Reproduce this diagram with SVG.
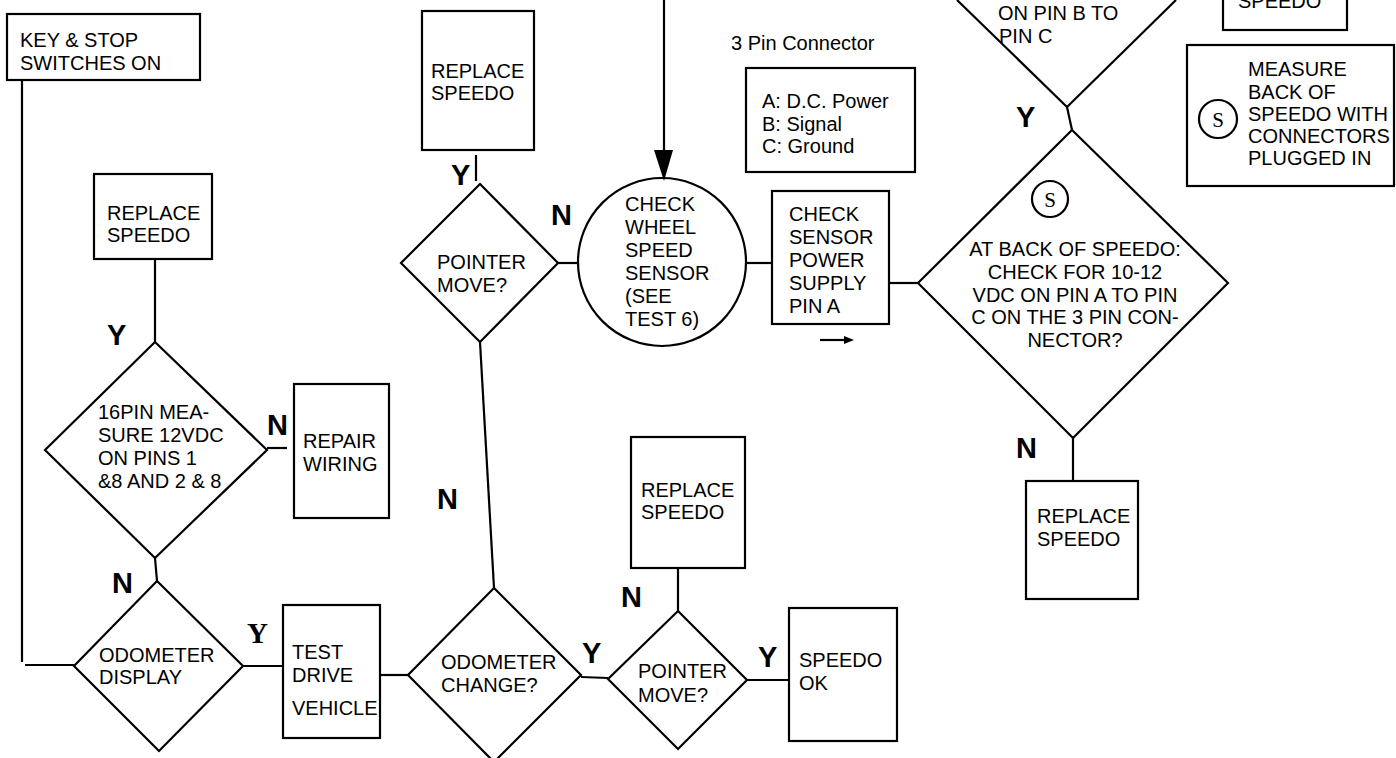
<svg xmlns="http://www.w3.org/2000/svg" width="1396" height="758" viewBox="0 0 1396 758">
<defs>
<style>
.s{fill:none;stroke:#000;stroke-width:2.2}
.t{font-family:"Liberation Sans",Arial,sans-serif;font-size:20px;fill:#000}
.m{text-anchor:middle}
.l{font-family:"Liberation Sans",Arial,sans-serif;font-size:29px;font-weight:bold;fill:#000}
.ls{font-family:"Liberation Serif","Times New Roman",serif;font-size:29px;font-weight:bold;fill:#000}
.sv{font-family:"Liberation Serif","Times New Roman",serif;font-size:21px;fill:#000;text-anchor:middle}
</style>
</defs>
<rect width="1396" height="758" fill="#fff"/>
<g id="connectors" class="s">
<polyline points="22,80 22,662"/>
<line x1="25" y1="665" x2="74" y2="665"/>
<line x1="155" y1="259" x2="155" y2="342"/>
<line x1="267" y1="448" x2="287" y2="448"/>
<line x1="155" y1="558" x2="157" y2="581"/>
<line x1="243" y1="666" x2="284" y2="666"/>
<line x1="380" y1="675" x2="408" y2="675"/>
<line x1="480" y1="342" x2="494" y2="588"/>
<line x1="581" y1="677" x2="608" y2="678"/>
<line x1="678" y1="611" x2="678" y2="568"/>
<line x1="747" y1="680" x2="789" y2="680"/>
<line x1="476" y1="155" x2="476" y2="181"/>
<line x1="558" y1="263" x2="579" y2="263"/>
<line x1="664" y1="0" x2="664" y2="152"/>
<polygon points="654,150 673,150 664,181" fill="#000" stroke="none"/>
<line x1="747" y1="263" x2="772" y2="263"/>
<line x1="820" y1="340" x2="846" y2="340"/>
<polygon points="844,336 854,340 844,344" fill="#000" stroke="none"/>
<line x1="889" y1="283" x2="918" y2="283"/>
<line x1="1067" y1="107" x2="1072" y2="130"/>
<line x1="1073" y1="438" x2="1073" y2="481"/>
</g>
<g id="key-stop"><rect class="s" x="7" y="14" width="193" height="66"/><text class="t" x="20" y="47">KEY &amp; STOP</text><text class="t" x="20" y="70">SWITCHES ON</text></g>
<g id="replace-left"><rect class="s" x="94" y="174" width="118" height="85"/><text class="t" x="107" y="220">REPLACE</text><text class="t" x="107" y="242">SPEEDO</text></g>
<g id="pin16"><polygon class="s" points="155,342 267,450 155,558 45,450"/><text class="t" x="98" y="419">16PIN MEA-</text><text class="t" x="98" y="442">SURE 12VDC</text><text class="t" x="98" y="465">ON PINS 1</text><text class="t" x="98" y="488">&amp;8 AND 2 &amp; 8</text></g>
<g id="repair"><rect class="s" x="294" y="384" width="95" height="134"/><text class="t" x="303" y="448">REPAIR</text><text class="t" x="303" y="471">WIRING</text></g>
<g id="odo-display"><polygon class="s" points="157,581 243,666 159,751 74,666"/><text class="t" x="99" y="662">ODOMETER</text><text class="t" x="99" y="684">DISPLAY</text></g>
<g id="test-drive"><rect class="s" x="283" y="605" width="97" height="133"/><text class="t" x="292" y="659">TEST</text><text class="t" x="292" y="682">DRIVE</text><text class="t" x="292" y="715">VEHICLE</text></g>
<g id="odo-change"><polygon class="s" points="494,588 581,675 494,762 408,675"/><text class="t" x="441" y="669">ODOMETER</text><text class="t" x="441" y="692">CHANGE?</text></g>
<g id="pointer-low"><polygon class="s" points="678,611 747,680 678,749 608,679"/><text class="t" x="638" y="678">POINTER</text><text class="t" x="638" y="702">MOVE?</text></g>
<g id="replace-mid-low"><rect class="s" x="631" y="437" width="114" height="131"/><text class="t" x="641" y="497">REPLACE</text><text class="t" x="641" y="519">SPEEDO</text></g>
<g id="speedo-ok"><rect class="s" x="789" y="608" width="108" height="133"/><text class="t" x="799" y="667">SPEEDO</text><text class="t" x="799" y="690">OK</text></g>
<g id="replace-top"><rect class="s" x="422" y="11" width="112" height="139"/><text class="t" x="431" y="78">REPLACE</text><text class="t" x="431" y="100">SPEEDO</text></g>
<g id="pointer-top"><polygon class="s" points="480,184 558,263 480,342 401,263"/><text class="t" x="437" y="269">POINTER</text><text class="t" x="437" y="292">MOVE?</text></g>
<g id="wheel-sensor"><circle class="s" cx="662" cy="262" r="84"/><text class="t" x="625" y="211">CHECK</text><text class="t" x="625" y="234">WHEEL</text><text class="t" x="625" y="257">SPEED</text><text class="t" x="625" y="280">SENSOR</text><text class="t" x="625" y="303">(SEE</text><text class="t" x="625" y="326">TEST 6)</text></g>
<g id="sensor-power"><rect class="s" x="772" y="191" width="117" height="133"/><text class="t" x="789" y="221">CHECK</text><text class="t" x="789" y="244">SENSOR</text><text class="t" x="789" y="267">POWER</text><text class="t" x="789" y="290">SUPPLY</text><text class="t" x="789" y="313">PIN A</text></g>
<g id="pin-legend"><text class="t" x="731" y="50">3 Pin Connector</text><rect class="s" x="746" y="68" width="169" height="104"/><text class="t" x="762" y="108">A: D.C. Power</text><text class="t" x="762" y="131">B: Signal</text><text class="t" x="762" y="153">C: Ground</text></g>
<g id="back-speedo"><polygon class="s" points="1072,130 1228,283 1073,438 918,283"/><circle class="s" cx="1050" cy="199" r="18"/><text class="sv" x="1050" y="207">S</text><text class="t m" x="1075" y="256">AT BACK OF SPEEDO:</text><text class="t m" x="1075" y="279">CHECK FOR 10-12</text><text class="t m" x="1075" y="302">VDC ON PIN A TO PIN</text><text class="t m" x="1075" y="324">C ON THE 3 PIN CON-</text><text class="t m" x="1075" y="347">NECTOR?</text></g>
<g id="pin-b-diamond"><polyline class="s" points="957,0 1067,107 1176,0"/><text class="t" x="998" y="20">ON PIN B TO</text><text class="t" x="999" y="43">PIN C</text></g>
<g id="replace-topright"><rect class="s" x="1223" y="-20" width="124" height="50"/><text class="t" x="1238" y="8">SPEEDO</text></g>
<g id="replace-right"><rect class="s" x="1026" y="481" width="112" height="118"/><text class="t" x="1037" y="523">REPLACE</text><text class="t" x="1037" y="546">SPEEDO</text></g>
<g id="measure-note"><rect class="s" x="1187" y="45" width="207" height="141"/><circle class="s" cx="1218" cy="119" r="19"/><text class="sv" x="1218" y="127">S</text><text class="t" x="1248" y="76">MEASURE</text><text class="t" x="1248" y="99">BACK OF</text><text class="t" x="1248" y="121">SPEEDO WITH</text><text class="t" x="1248" y="143">CONNECTORS</text><text class="t" x="1248" y="165">PLUGGED IN</text></g>
<g id="labels">
<text class="l" x="107" y="345">Y</text>
<text class="l" x="267" y="435">N</text>
<text class="l" x="112" y="593">N</text>
<text class="ls" x="247" y="643">Y</text>
<text class="l" x="451" y="185">Y</text>
<text class="l" x="551" y="225">N</text>
<text class="l" x="437" y="509">N</text>
<text class="l" x="582" y="663">Y</text>
<text class="l" x="621" y="607">N</text>
<text class="l" x="758" y="667">Y</text>
<text class="l" x="1016" y="127">Y</text>
<text class="l" x="1016" y="458">N</text>
</g>
</svg>
